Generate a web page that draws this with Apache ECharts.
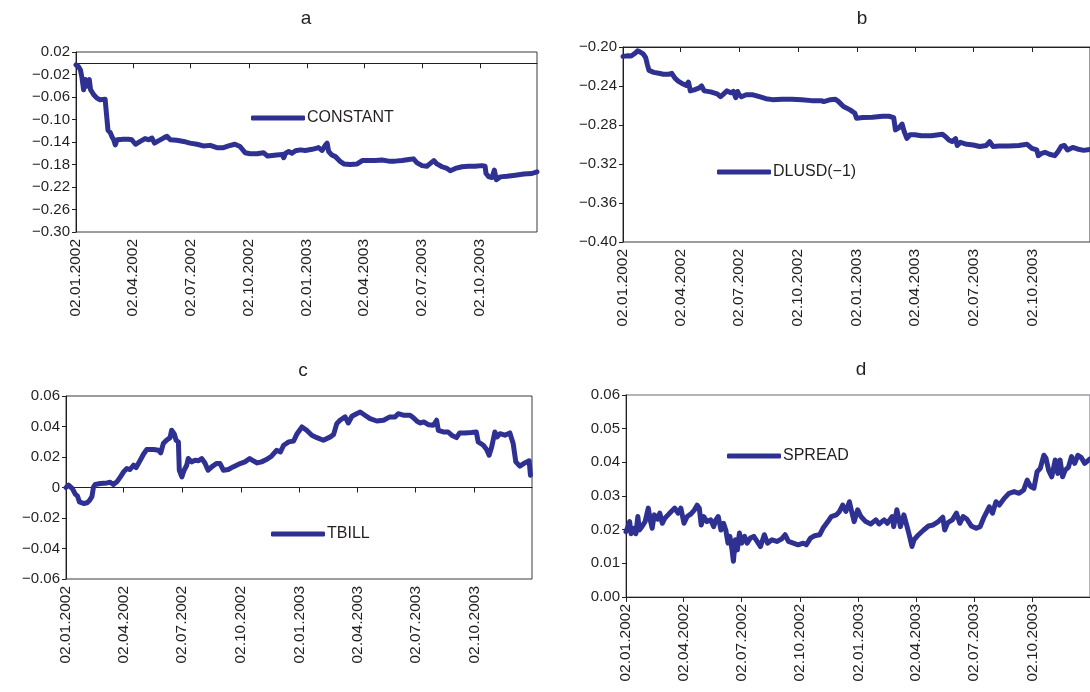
<!DOCTYPE html>
<html>
<head>
<meta charset="utf-8">
<script src="https://cdn.jsdelivr.net/npm/echarts@6/dist/echarts.min.js"></script>
<style>
  html, body { margin: 0; padding: 0; background: #fff; }
  #chart { width: 1090px; height: 692px; }
</style>
</head>
<body>
<div id="chart"></div>
<script>
// x values are days counted from 02.01.2002
const tickDays = [0, 90, 181, 273, 365, 455, 546, 638];
const tickLabels = ["02.01.2002", "02.04.2002", "02.07.2002", "02.10.2002",
  "02.01.2003", "02.04.2003", "02.07.2003", "02.10.2003"];
const lastDay = 728;

const constant = [
  [0,-0.003],[4,-0.006],[7,-0.012],[9.5,-0.026],[12,-0.047],[15,-0.029],[17,-0.041],[21,-0.029],
  [23,-0.047],[28,-0.056],[33,-0.062],[38,-0.065],[46,-0.064],[49,-0.065],[50.5,-0.119],[54,-0.123],
  [57,-0.131],[59.5,-0.136],[62,-0.145],[65,-0.136],[75,-0.135],[83,-0.135],[88,-0.136],[94,-0.144],
  [101.5,-0.139],[109,-0.134],[115,-0.136],[120,-0.133],[124,-0.142],[130,-0.138],[138,-0.133],
  [143.6,-0.130],[149,-0.136],[159,-0.137],[170,-0.139],[180,-0.142],[191,-0.144],[201,-0.147],
  [212,-0.146],[222.5,-0.150],[233,-0.150],[241,-0.147],[251,-0.144],[259,-0.148],[267,-0.159],
  [275,-0.161],[286,-0.161],[296,-0.159],[302.5,-0.165],[317,-0.163],[326,-0.162],[328,-0.168],
  [331,-0.160],[336,-0.157],[341,-0.160],[346.6,-0.1555],[354.5,-0.154],[362,-0.155],[373,-0.153],
  [383,-0.150],[388.7,-0.155],[393,-0.147],[396.6,-0.142],[399,-0.157],[404,-0.163],[409.7,-0.166],
  [417.6,-0.175],[423,-0.179],[433,-0.180],[444,-0.179],[452,-0.173],[462,-0.173],[473,-0.173],
  [483,-0.172],[494,-0.174],[504,-0.174],[515,-0.173],[525.6,-0.171],[533,-0.170],[538.6,-0.177],
  [546.5,-0.182],[554,-0.183],[559.6,-0.178],[565,-0.173],[570,-0.179],[578,-0.184],[586,-0.187],
  [591,-0.191],[599,-0.187],[609.6,-0.184],[620,-0.183],[630.6,-0.183],[641,-0.182],[646,-0.183],
  [647.5,-0.196],[652,-0.202],[657,-0.203],[660.6,-0.190],[663.8,-0.207],[670,-0.202],[680.6,-0.201],
  [693.8,-0.199],[707,-0.197],[720,-0.196],[728,-0.193]
];

const dlusd = [
  [0,-0.2096],[7.6,-0.209],[12.7,-0.2093],[17.7,-0.207],[22.8,-0.204],[26.3,-0.205],[31.4,-0.207],
  [35.4,-0.211],[38,-0.218],[40.5,-0.224],[48,-0.226],[55.7,-0.227],[63,-0.228],[71,-0.228],
  [76,-0.227],[81,-0.232],[86,-0.235],[93.7,-0.238],[98.7,-0.2395],[102,-0.236],[105,-0.245],
  [111,-0.244],[119,-0.242],[122.5,-0.240],[126.6,-0.245],[136.7,-0.246],[146.8,-0.248],[152,-0.251],
  [157,-0.248],[162,-0.245],[168,-0.247],[172,-0.2456],[175.7,-0.252],[178.7,-0.2456],[181,-0.249],
  [184.8,-0.251],[192,-0.249],[202.5,-0.249],[212.7,-0.251],[222.8,-0.253],[233,-0.254],[248,-0.2535],
  [263,-0.2535],[278.5,-0.254],[293.7,-0.255],[309,-0.255],[313,-0.256],[323.5,-0.254],[331,-0.2535],
  [336,-0.256],[343.7,-0.261],[354,-0.2645],[361.5,-0.268],[364,-0.273],[374,-0.2724],[389,-0.272],
  [404.5,-0.271],[414.6,-0.271],[422,-0.2724],[424.7,-0.285],[430,-0.283],[435,-0.279],[438.4,-0.2868],
  [442.5,-0.2937],[447.5,-0.290],[455,-0.290],[465,-0.291],[480.4,-0.291],[498,-0.2895],[503,-0.292],
  [508,-0.2954],[513,-0.297],[518.4,-0.294],[521,-0.301],[526,-0.2978],[536,-0.2998],[546,-0.3005],
  [556,-0.302],[566.5,-0.301],[571.6,-0.297],[576.6,-0.302],[586.8,-0.3015],[602,-0.3015],[617,-0.301],
  [630,-0.2998],[637.4,-0.304],[645,-0.3056],[647.5,-0.3115],[652.7,-0.309],[657.8,-0.308],[665,-0.310],
  [673,-0.3115],[678,-0.3074],[683,-0.302],[688,-0.301],[693,-0.3056],[701,-0.303],[708.3,-0.3046],
  [718,-0.306],[728,-0.305]
];

const tbill = [
  [0,0.000],[4,0.0015],[7,0.002],[10,-0.0007],[14.5,-0.0044],[18,-0.0057],[21,-0.0094],[27.5,-0.0105],
  [33,-0.010],[37,-0.0083],[40.5,-0.006],[43,0.0004],[45.7,0.002],[53.5,0.0026],[64,0.003],[69,0.0035],
  [74,0.002],[79.5,0.0037],[85,0.007],[90,0.0103],[95,0.0124],[100,0.0118],[105.5,0.0146],[109.6,0.0131],
  [116,0.0179],[121,0.0218],[126,0.0249],[137,0.0249],[144.5,0.0244],[148,0.0227],[152,0.0288],
  [157,0.031],[162.6,0.0327],[165,0.0375],[169,0.0353],[172,0.031],[175.6,0.0299],[177,0.0113],
  [181,0.007],[184.5,0.0113],[188.6,0.0146],[191,0.019],[196,0.0168],[201.6,0.0179],[207,0.0175],
  [212,0.019],[217,0.0161],[222,0.0113],[227.6,0.0135],[235,0.0157],[240.6,0.0157],[246,0.0113],
  [253.6,0.0118],[261,0.0135],[272,0.0157],[279.5,0.0168],[287,0.019],[292.5,0.0175],[298.8,0.0161],
  [305.5,0.0168],[313,0.0183],[321,0.0205],[329,0.0244],[335,0.0233],[340,0.0277],[348,0.0299],
  [355.6,0.0305],[361,0.0353],[368.6,0.0397],[376,0.0375],[384,0.0343],[392,0.0327],[402,0.031],
  [413,0.0332],[418,0.0347],[423,0.0419],[428,0.0441],[436,0.0463],[441,0.0423],[446.6,0.0467],
  [454,0.0484],[459.6,0.0495],[467,0.0474],[475,0.0452],[485.5,0.0436],[496,0.0441],[506,0.0463],
  [514,0.0463],[519,0.0484],[527,0.0474],[537.5,0.0474],[542.7,0.0458],[548,0.0436],[553,0.0423],
  [559,0.043],[566,0.0412],[574,0.0408],[579,0.0441],[581.7,0.0375],[589.5,0.0364],[597,0.0364],
  [602.5,0.0343],[610,0.0327],[615,0.0358],[623,0.0358],[633.6,0.036],[641,0.0364],[644,0.0299],
  [652,0.0277],[657,0.0249],[661,0.0212],[665,0.0266],[670,0.0364],[673.6,0.0332],[678,0.0353],
  [685.6,0.0343],[693.4,0.0358],[698.6,0.0288],[702.7,0.0168],[709,0.014],[716.8,0.0161],
  [723.5,0.0175],[725.6,0.0081]
];

const spread = [
  [0,0.0194],[3,0.0209],[5.7,0.0224],[8,0.0188],[12,0.0204],[15.5,0.0188],[18.6,0.0239],[21,0.0199],
  [25,0.0209],[30,0.0224],[35,0.0264],[38,0.0229],[41,0.0204],[44.4,0.0244],[49.6,0.0231],[53,0.0249],
  [57,0.0219],[61,0.0234],[66,0.0244],[71,0.0254],[76.5,0.0264],[81.7,0.0249],[86,0.0264],[91,0.0219],
  [96,0.0239],[102,0.0247],[107.5,0.0259],[111.6,0.0273],[115,0.0264],[118,0.0214],[122,0.0239],
  [127,0.0224],[133,0.0229],[137.5,0.0209],[141,0.0229],[144.7,0.0239],[149,0.0199],[153,0.0219],
  [156.6,0.0199],[160,0.016],[163,0.018],[166.4,0.014],[168.5,0.0106],[171.6,0.017],[174.7,0.014],
  [178,0.019],[181.4,0.016],[186,0.018],[190,0.016],[195,0.0175],[200.5,0.018],[205.7,0.0165],
  [211,0.015],[217,0.0185],[222,0.016],[229,0.017],[236.7,0.0165],[244,0.0172],[249.6,0.0185],
  [254.8,0.0165],[262.5,0.016],[270,0.0155],[273,0.015],[278,0.016],[283,0.0155],[289.4,0.0175],
  [296,0.0182],[304,0.0185],[309,0.0204],[316.8,0.0224],[322,0.0239],[330,0.0244],[335,0.0254],
  [340,0.0273],[345,0.0254],[350.5,0.0283],[354,0.0254],[358,0.0224],[363.5,0.0259],[368.6,0.0239],
  [376,0.0224],[384,0.0217],[392,0.0229],[397,0.0217],[405,0.0229],[410,0.0219],[417.7,0.0239],
  [420,0.0209],[425,0.0259],[430.6,0.0209],[436,0.0244],[441,0.0209],[445,0.018],[448.7,0.015],
  [452,0.017],[459,0.0185],[467,0.0199],[474.6,0.0211],[482,0.0214],[490,0.0224],[497,0.0237],
  [500,0.0199],[505,0.0221],[512,0.0229],[518.5,0.0249],[523.7,0.0219],[529,0.0239],[535,0.0231],
  [541.7,0.0211],[549.5,0.0204],[555.7,0.0209],[561,0.0234],[565,0.0249],[570,0.0268],[575,0.0249],
  [580.5,0.0283],[585.7,0.0273],[593.4,0.0293],[601,0.0308],[609,0.0313],[616.7,0.0308],[624,0.0318],
  [629.5,0.0347],[634.8,0.0328],[640,0.0323],[645,0.0372],[650,0.0382],[655.6,0.0421],[659,0.0412],
  [663,0.0377],[668,0.0357],[673.4,0.0407],[677.5,0.0367],[681,0.0407],[685,0.0357],[689,0.0377],
  [694,0.0385],[699,0.0417],[704,0.0397],[709,0.0421],[714,0.0415],[719.7,0.0397],[728,0.041]
];

const lineColor = "#2e3192";
const textColor = "#231f20";
const fontFamily = "'Liberation Sans', Arial, sans-serif";

// tick text with a real minus sign; plainZero writes 0 as "0"
function minus(v, plainZero) {
  if (Math.abs(v) < 1e-9) return plainZero ? "0" : "0.00";
  return (v < 0 ? "\u2212" : "") + Math.abs(v).toFixed(2);
}

// x axis carrying the rotated date labels
function labelAxis(gridIndex) {
  return {
    type: "value", gridIndex: gridIndex, min: 0, max: lastDay, position: "bottom",
    axisLine: { show: false, onZero: false },
    axisTick: { show: false },
    splitLine: { show: false },
    axisLabel: {
      customValues: tickDays, rotate: 90, margin: 7,
      color: textColor, fontSize: 15.5, fontFamily: fontFamily,
      formatter: function(v) { return tickLabels[tickDays.indexOf(v)]; }
    }
  };
}

// x axis drawing only the line with its ticks
function tickAxis(gridIndex, position, onZero, inside) {
  return {
    type: "value", gridIndex: gridIndex, min: 0, max: lastDay, position: position,
    axisLine: { show: true, onZero: onZero, lineStyle: { color: "#231f20", width: 1 } },
    axisTick: { show: true, customValues: tickDays, length: 5, inside: inside, lineStyle: { color: "#231f20" } },
    axisLabel: { show: false },
    splitLine: { show: false }
  };
}

function yAxis(gridIndex, min, max, interval, plainZero) {
  return {
    type: "value", gridIndex: gridIndex, min: min, max: max, interval: interval,
    axisLine: { show: true, lineStyle: { color: "#231f20", width: 1 } },
    axisTick: { show: true, length: 4, lineStyle: { color: "#231f20" } },
    splitLine: { show: false },
    axisLabel: {
      margin: 6, color: textColor, fontSize: 15, fontFamily: fontFamily,
      formatter: function(v) { return minus(v, plainZero); }
    }
  };
}

function lineSeries(name, data, gridIndex) {
  return {
    name: name, type: "line", data: data,
    xAxisIndex: gridIndex * 2, yAxisIndex: gridIndex,
    showSymbol: false, smooth: false, silent: true, animation: false,
    lineStyle: { color: lineColor, width: 5, cap: "round", join: "round" },
    itemStyle: { color: lineColor }
  };
}

function legendAt(name, left, top) {
  return {
    data: [name], left: left, top: top, padding: 0,
    icon: "roundRect", itemWidth: 54, itemHeight: 5,
    textStyle: { color: textColor, fontSize: 16, fontFamily: fontFamily, padding: [0, 0, 0, -3] },
    selectedMode: false
  };
}

function titleAt(text, left, top) {
  return {
    text: text, left: left, top: top, padding: 0, textAlign: "center",
    textStyle: { color: textColor, fontSize: 19, fontWeight: "normal", fontFamily: fontFamily }
  };
}

const chart = echarts.init(document.getElementById("chart"));
chart.setOption({
  backgroundColor: "#ffffff",
  animation: false,
  title: [
    titleAt("a", 306, 9),
    titleAt("b", 862, 9),
    titleAt("c", 303, 361),
    titleAt("d", 861, 360)
  ],
  legend: [
    legendAt("CONSTANT", 251, 110),
    legendAt("DLUSD(\u22121)", 717, 164),
    legendAt("TBILL", 271, 526),
    legendAt("SPREAD", 727, 448)
  ],
  grid: [
    { left: 76, top: 52, width: 461, height: 180, show: true, borderColor: "#3a3a3a", borderWidth: 1 },
    { left: 623, top: 47, width: 479, height: 195, show: true, borderColor: "#3a3a3a", borderWidth: 1 },
    { left: 66, top: 396, width: 466, height: 183, show: true, borderColor: "#3a3a3a", borderWidth: 1 },
    { left: 626, top: 395, width: 470, height: 202, show: true, borderColor: "#9a9c9f", borderWidth: 1.5 }
  ],
  xAxis: [
    labelAxis(0),
    tickAxis(0, "bottom", true, false),
    labelAxis(1),
    tickAxis(1, "top", false, true),
    labelAxis(2),
    tickAxis(2, "bottom", true, false),
    labelAxis(3),
    tickAxis(3, "bottom", false, false)
  ],
  yAxis: [
    yAxis(0, -0.30, 0.02, 0.04, false),
    yAxis(1, -0.40, -0.20, 0.04, false),
    yAxis(2, -0.06, 0.06, 0.02, true),
    yAxis(3, 0, 0.06, 0.01, false)
  ],
  series: [
    lineSeries("CONSTANT", constant, 0),
    lineSeries("DLUSD(\u22121)", dlusd, 1),
    lineSeries("TBILL", tbill, 2),
    lineSeries("SPREAD", spread, 3)
  ]
});
</script>
</body>
</html>
